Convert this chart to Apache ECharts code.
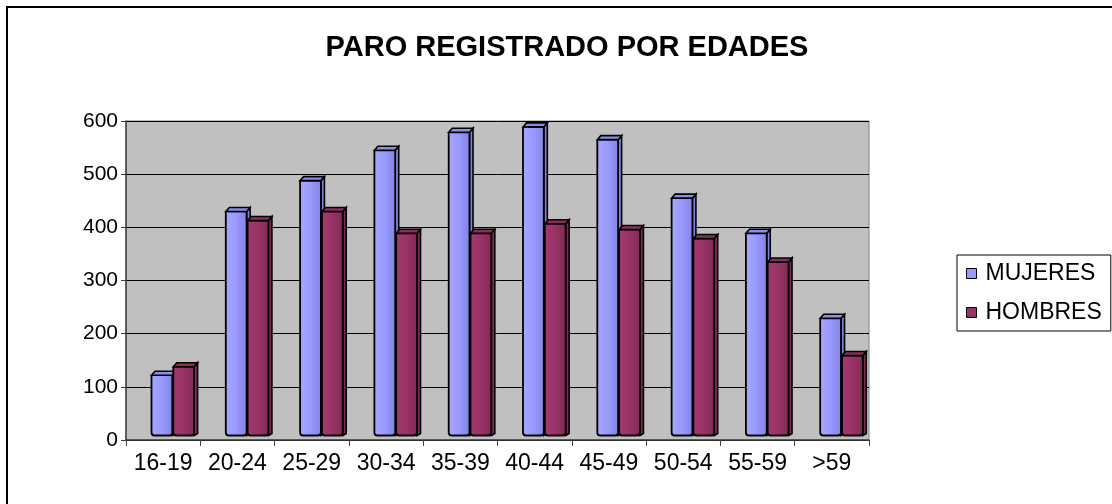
<!DOCTYPE html>
<html>
<head>
<meta charset="utf-8">
<script src="https://cdn.jsdelivr.net/npm/echarts@6/dist/echarts.min.js"></script>
<style>
html,body{margin:0;padding:0;background:#fff;}
#c{width:1112px;height:504px;}
</style>
</head>
<body>
<div id="c"></div>
<script>
const categories = ['16-19','20-24','25-29','30-34','35-39','40-44','45-49','50-54','55-59','>59'];
const mujeres = [120, 428, 486, 543, 577, 587, 563, 453, 387, 227];
const hombres = [136, 411, 428, 387, 387, 405, 394, 377, 333, 157];
const yTicks = [0, 100, 200, 300, 400, 500, 600];
const seriesNames = ['MUJERES', 'HOMBRES'];
const colors = {
  MUJERES: { light: '#A8A8FF', mid: '#9999FF', dark: '#8282E0', top: '#8C8CEE' },
  HOMBRES: { light: '#A33A70', mid: '#993366', dark: '#7E2A54', top: '#86305A' }
};

const FONT = '"Liberation Sans", Arial, sans-serif';

function makeRender(seriesIdx, name) {
  const c = colors[name];
  return function (params, api) {
    const cat = api.value(0);
    const val = api.value(1);
    const p = api.coord([cat, val]);
    const p0 = api.coord([cat, 0]);
    const catW = api.size([1, 0])[0];
    const barW = catW * 0.28;
    const shift = catW * 0.13;
    const x0 = p[0] + shift + (seriesIdx === 0 ? -barW - 0.5 : 0.5);
    const x1 = x0 + barW;
    const yTop = p[1] - 1;
    const yBot = p0[1] - 4.5;
    const dx = 3.5, dy = 4;
    const grad = new echarts.graphic.LinearGradient(0, 0, 1, 0, [
      { offset: 0, color: c.light },
      { offset: 0.5, color: c.mid },
      { offset: 1, color: c.dark }
    ]);
    return {
      type: 'group',
      children: [
        { type: 'polygon', shape: { points: [[x1, yTop], [x1 + dx, yTop - dy], [x1 + dx, yBot - 2], [x1, yBot]] },
          style: { fill: c.dark, stroke: '#000', lineWidth: 1.6 } },
        { type: 'rect', shape: { x: x0, y: yTop, width: barW, height: yBot - yTop, r: [0, 0, 3, 3] },
          style: { fill: grad, stroke: '#000', lineWidth: 1.8 } },
        { type: 'polygon', shape: { points: [[x0, yTop], [x0 + dx, yTop - dy], [x1 + dx, yTop - dy], [x1, yTop]] },
          style: { fill: c.top, stroke: '#000', lineWidth: 1.6 } }
      ]
    };
  };
}

const chart = echarts.init(document.getElementById('c'), null, { renderer: 'canvas' });
const option = {
  backgroundColor: '#ffffff',
  animation: false,
  title: {
    text: 'PARO REGISTRADO POR EDADES',
    left: 562, top: 28, textAlign: 'center',
    textStyle: { fontFamily: FONT, fontWeight: 'bold', fontSize: 29, color: '#000' }
  },
  grid: { left: 126, top: 121, right: 243, bottom: 64, show: true, backgroundColor: '#C0C0C0', borderColor: '#808080', borderWidth: 1 },
  legend: {
    orient: 'vertical',
    left: 957, top: 255,
    itemWidth: 10, itemHeight: 10, itemGap: 16,
    padding: [7, 9, 7, 9],
    borderColor: '#000', borderWidth: 1, backgroundColor: '#fff',
    textStyle: { fontFamily: FONT, fontSize: 23, color: '#000', padding: [0, 0, 0, 4] },
    data: seriesNames.map(n => ({ name: n, icon: 'rect', itemStyle: { color: colors[n].mid, borderColor: '#000', borderWidth: 1 } }))
  },
  xAxis: {
    type: 'category',
    data: categories,
    boundaryGap: true,
    axisLine: { lineStyle: { color: '#404040', width: 1.5 } },
    axisTick: { show: true, inside: false, length: 6, lineStyle: { color: '#404040' } },
    axisLabel: { fontFamily: FONT, fontSize: 23, color: '#000', margin: 12, interval: 0 }
  },
  yAxis: {
    type: 'value',
    min: yTicks[0], max: yTicks[yTicks.length - 1], interval: 100,
    axisLine: { show: true, lineStyle: { color: '#404040', width: 1.5 } },
    axisTick: { show: true, length: 5, lineStyle: { color: '#404040' } },
    splitLine: { show: true, lineStyle: { color: '#000', width: 1 } },
    axisLabel: { fontFamily: FONT, fontSize: 21, color: '#000', margin: 8 }
  },
  graphic: [
    { type: 'rect', shape: { x: 7, y: 7, width: 1200, height: 600 }, style: { fill: 'none', stroke: '#000', lineWidth: 2 }, silent: true, z: 100 }
  ],
  series: [
    { name: 'MUJERES', type: 'custom', itemStyle: { color: colors.MUJERES.mid }, renderItem: makeRender(0, 'MUJERES'),
      encode: { x: 0, y: 1 }, data: mujeres.map((v, i) => [i, v]), z: 3 },
    { name: 'HOMBRES', type: 'custom', itemStyle: { color: colors.HOMBRES.mid }, renderItem: makeRender(1, 'HOMBRES'),
      encode: { x: 0, y: 1 }, data: hombres.map((v, i) => [i, v]), z: 3 }
  ]
};
chart.setOption(option);
</script>
</body>
</html>
